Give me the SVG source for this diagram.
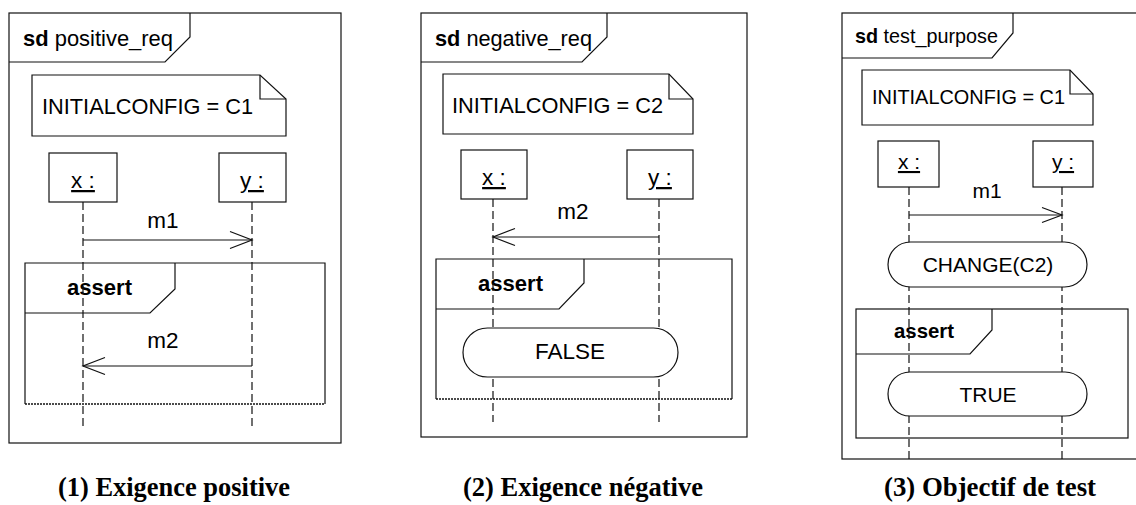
<svg xmlns="http://www.w3.org/2000/svg" width="1136" height="505" viewBox="0 0 1136 505">
<defs>
<style>
.ln{fill:none;stroke:#111;stroke-width:1.2}
.box{fill:#fff;stroke:#111;stroke-width:1.2}
.life{fill:none;stroke:#111;stroke-width:1.2;stroke-dasharray:8 4}
.dot{fill:none;stroke:#111;stroke-width:1.6;stroke-dasharray:2 1}
.t{font-family:"Liberation Sans",Arial,sans-serif;font-size:22.5px;fill:#000}
.t3{font-family:"Liberation Sans",Arial,sans-serif;font-size:21px;fill:#000}
.b{font-weight:bold}
.u{text-decoration:underline}
.cap{font-family:"Liberation Serif","Times New Roman",serif;font-weight:bold;font-size:28px;fill:#000}
</style>
<marker id="arr" viewBox="-24 -10 26 20" refX="0" refY="0" markerWidth="26" markerHeight="20" orient="auto" markerUnits="userSpaceOnUse">
<path d="M-22,-8.5 L0,0 L-22,8.5" fill="none" stroke="#111" stroke-width="1.2"/>
</marker>
<marker id="arr3" viewBox="-24 -10 26 20" refX="0" refY="0" markerWidth="26" markerHeight="20" orient="auto" markerUnits="userSpaceOnUse">
<path d="M-20,-7.5 L0,0 L-20,7.5" fill="none" stroke="#111" stroke-width="1.2"/>
</marker>
</defs>
<rect width="1136" height="505" fill="#fff"/>

<!-- Panel 1 -->
<g id="frame1">
<rect x="9" y="13" width="332" height="430" class="ln"/>
<path d="M9,62 H165 L190,37 V13" class="ln"/>
<text x="23" y="46" class="t" textLength="150" lengthAdjust="spacingAndGlyphs"><tspan class="b">sd</tspan> positive_req</text>
</g>
<g id="note1">
<path d="M32,75 H260 L286,99 V136 H32 Z" class="box"/>
<path d="M260,75 V99 H286" class="ln"/>
<text x="42" y="114" class="t" textLength="211" lengthAdjust="spacingAndGlyphs">INITIALCONFIG = C1</text>
</g>
<g id="assert1">
<path d="M25,404 V263 H325 V404" class="ln"/>
<path d="M25,404 H325" class="dot"/>
<path d="M25,313 H150 L175,289 V263" class="ln"/>
<text x="67" y="295" class="t b" textLength="65" lengthAdjust="spacingAndGlyphs">assert</text>
</g>
<g id="x1">
<rect x="49" y="153" width="68" height="49" class="box"/>
<text x="83" y="188" class="t u" text-anchor="middle">x :</text>
</g>
<g id="y1">
<rect x="219" y="153" width="67" height="49" class="box"/>
<text x="252" y="188" class="t u" text-anchor="middle">y :</text>
</g>

<!-- Panel 2 -->
<g id="frame2">
<rect x="421" y="13" width="326" height="424" class="ln"/>
<path d="M421,62 H582 L607,37 V13" class="ln"/>
<text x="435" y="46" class="t" textLength="157" lengthAdjust="spacingAndGlyphs"><tspan class="b">sd</tspan> negative_req</text>
</g>
<g id="note2">
<path d="M443,74 H669 L693,99 V134 H443 Z" class="box"/>
<path d="M669,74 V99 H693" class="ln"/>
<text x="452" y="113" class="t" textLength="211" lengthAdjust="spacingAndGlyphs">INITIALCONFIG = C2</text>
</g>
<g id="assert2">
<path d="M436,399 V259 H732 V399" class="ln"/>
<path d="M436,399 H732" class="dot"/>
<path d="M436,309 H559 L584,283 V259" class="ln"/>
<text x="478" y="291" class="t b" textLength="65" lengthAdjust="spacingAndGlyphs">assert</text>
</g>
<g id="x2">
<rect x="461" y="150" width="66" height="49" class="box"/>
<text x="494" y="185" class="t u" text-anchor="middle">x :</text>
</g>
<g id="y2">
<rect x="627" y="150" width="66" height="49" class="box"/>
<text x="660" y="185" class="t u" text-anchor="middle">y :</text>
</g>

<!-- Panel 3 -->
<g id="frame3">
<rect x="842" y="13" width="300" height="446" class="ln"/>
<path d="M842,58 H992 L1013,33 V13" class="ln"/>
<text x="855" y="43" class="t3" textLength="143" lengthAdjust="spacingAndGlyphs"><tspan class="b">sd</tspan> test_purpose</text>
</g>
<g id="note3">
<path d="M862,70 H1070 L1093,94 V125 H862 Z" class="box"/>
<path d="M1070,70 V94 H1093" class="ln"/>
<text x="872" y="104" class="t3" textLength="193" lengthAdjust="spacingAndGlyphs">INITIALCONFIG = C1</text>
</g>
<g id="assert3">
<rect x="856" y="309" width="272" height="129" class="ln"/>
<path d="M856,354 H970 L992,330 V309" class="ln"/>
<text x="894" y="338" class="t3 b" textLength="60" lengthAdjust="spacingAndGlyphs">assert</text>
</g>
<g id="x3">
<rect x="878" y="141" width="61" height="46" class="box"/>
<text x="909" y="169" class="t3 u" text-anchor="middle">x :</text>
</g>
<g id="y3">
<rect x="1033" y="141" width="60" height="46" class="box"/>
<text x="1063" y="169" class="t3 u" text-anchor="middle">y :</text>
</g>

<!-- Connectors -->
<g id="connectors">
<path d="M83,202 V428" class="life"/>
<path d="M252,202 V428" class="life"/>
<path d="M493,199 V422" class="life"/>
<path d="M659,199 V422" class="life"/>
<path d="M909,187 V459" class="life"/>
<path d="M1062,187 V459" class="life"/>
<path d="M83,240 H252" class="ln" marker-end="url(#arr)"/>
<text x="163" y="228" class="t" text-anchor="middle">m1</text>
<path d="M252,366 H83" class="ln" marker-end="url(#arr)"/>
<text x="163" y="348" class="t" text-anchor="middle">m2</text>
<path d="M659,237 H493" class="ln" marker-end="url(#arr)"/>
<text x="573" y="219" class="t" text-anchor="middle">m2</text>
<path d="M909,215 H1062" class="ln" marker-end="url(#arr3)"/>
<text x="987" y="198" class="t3" text-anchor="middle">m1</text>
</g>

<!-- States (over lifelines) -->
<g id="false2">
<rect x="463" y="328" width="215" height="49" rx="24.5" ry="24.5" class="box"/>
<text x="570" y="359" class="t" text-anchor="middle">FALSE</text>
</g>
<g id="change3">
<rect x="888" y="242" width="199" height="45" rx="22.5" ry="22.5" class="box"/>
<text x="988" y="272" class="t3" text-anchor="middle">CHANGE(C2)</text>
</g>
<g id="true3">
<rect x="888" y="372" width="199" height="44" rx="22" ry="22" class="box"/>
<text x="988" y="402" class="t3" text-anchor="middle">TRUE</text>
</g>

<!-- Captions -->
<g id="captions">
<text x="174" y="496" class="cap" text-anchor="middle" textLength="232" lengthAdjust="spacingAndGlyphs">(1) Exigence positive</text>
<text x="583" y="496" class="cap" text-anchor="middle" textLength="240" lengthAdjust="spacingAndGlyphs">(2) Exigence négative</text>
<text x="990" y="496" class="cap" text-anchor="middle" textLength="212" lengthAdjust="spacingAndGlyphs">(3) Objectif de test</text>
</g>
</svg>
